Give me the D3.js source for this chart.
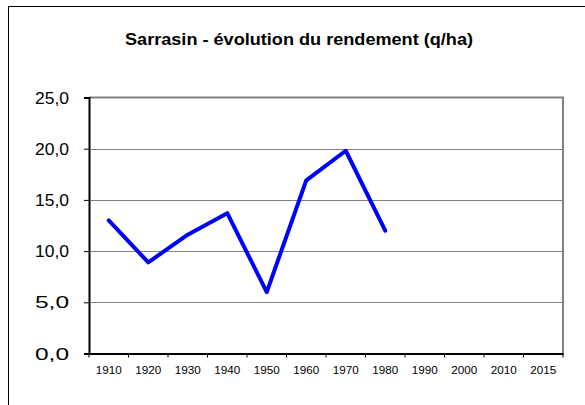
<!DOCTYPE html>
<html><head><meta charset="utf-8">
<script src="https://cdn.jsdelivr.net/npm/d3@7/dist/d3.min.js"></script>
<style>body{margin:0;background:#fff}svg{display:block}</style>
</head><body>
<script>
const title = "Sarrasin - évolution du rendement (q/ha)";
const categories = ["1910","1920","1930","1940","1950","1960","1970","1980","1990","2000","2010","2015"];
const values = [13.0, 8.9, 11.6, 13.7, 6.0, 16.9, 19.8, 12.0, null, null, null, null];
const yTicks = [0, 5, 10, 15, 20, 25];

const W = 585, H = 405;
const svg = d3.select("body").append("svg").attr("width", W).attr("height", H);
const font = "'Liberation Sans', Arial, sans-serif";

svg.append("rect").attr("x", 8.5).attr("y", 6.5).attr("width", 700).attr("height", 500)
  .attr("fill", "#fff").attr("stroke", "#000").attr("stroke-width", 1);

const L = 89, R = 563, T = 97.5, B = 353.5;
const x = d3.scaleBand().domain(categories).range([L, R]);
const y = d3.scaleLinear().domain([0, 25]).range([B, T]);

svg.append("text").attr("x", 299).attr("y", 44.5).attr("text-anchor", "middle")
  .attr("font-family", font).attr("font-weight", "bold").attr("font-size", 16.5)
  .attr("textLength", 348).attr("lengthAdjust", "spacingAndGlyphs").text(title);

// gridlines
svg.append("g").selectAll("line").data(yTicks.filter(d => d > 0 && d < 25)).join("line")
  .attr("x1", L).attr("x2", R).attr("y1", d => Math.round(y(d)) + 0.5).attr("y2", d => Math.round(y(d)) + 0.5)
  .attr("stroke", "#808080").attr("stroke-width", 1);
// top and right border
svg.append("line").attr("x1", L).attr("x2", R + 1).attr("y1", y(25)).attr("y2", y(25))
  .attr("stroke", "#808080").attr("stroke-width", 2);
svg.append("line").attr("x1", R).attr("x2", R).attr("y1", y(25)).attr("y2", B)
  .attr("stroke", "#808080").attr("stroke-width", 2);

// y axis
const yAxis = d3.axisLeft(y).tickValues(yTicks).tickSize(5).tickPadding(15)
  .tickFormat(d => d3.format(".1f")(d).replace(".", ","));
const gy = svg.append("g").attr("transform", `translate(${L},0)`).call(yAxis);
gy.select(".domain").attr("stroke", "#000").attr("stroke-width", 2);
gy.selectAll(".tick line").attr("stroke", "#000").attr("stroke-width", 1);
gy.selectAll("text").attr("font-family", font).attr("font-size", 16.5).attr("fill", "#000")
  .attr("textLength", 34).attr("lengthAdjust", "spacingAndGlyphs").attr("dy", "0.34em");

// x axis
const xAxis = d3.axisBottom(x).tickSize(0).tickPadding(13);
const gx = svg.append("g").attr("transform", `translate(0,${B})`).call(xAxis);
gx.select(".domain").attr("stroke", "#000").attr("stroke-width", 2);
gx.selectAll("text").attr("font-family", font).attr("font-size", 10.5).attr("fill", "#000")
  .attr("textLength", 26).attr("lengthAdjust", "spacingAndGlyphs");
const bounds = categories.map(c => x(c)).concat([R]);
gx.selectAll("line.b").data(bounds).join("line").attr("class", "b")
  .attr("x1", d => d).attr("x2", d => d).attr("y1", 0).attr("y2", 4)
  .attr("stroke", "#000").attr("stroke-width", 1);

// data line
const data = categories.map((c, i) => ({c, v: values[i]}));
const line = d3.line().defined(d => d.v != null)
  .x(d => x(d.c) + x.bandwidth() / 2).y(d => y(d.v));
svg.append("path").datum(data).attr("d", line).attr("fill", "none")
  .attr("stroke", "#0000ff").attr("stroke-width", 4).attr("stroke-linejoin", "round").attr("stroke-linecap", "round");
</script>
</body></html>
